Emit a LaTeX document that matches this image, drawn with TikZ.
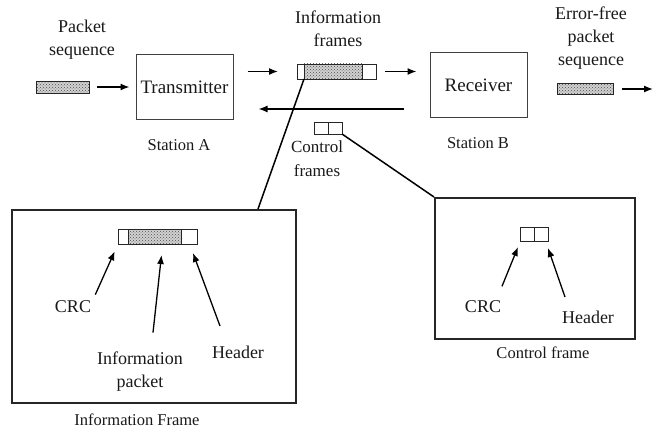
\documentclass[tikz,border=0pt]{standalone}
\usepackage{fontspec}
\setmainfont{Liberation Serif}
\usetikzlibrary{arrows.meta,positioning,patterns}

\tikzset{
  lbl/.style={font=\fontsize{18}{23}\selectfont, align=center, text=black!90, inner sep=2pt},
  undertext/.style={font=\fontsize{16.5}{20}\selectfont, text=black!90, inner sep=2pt},
  station/.style={draw=black!75, line width=1pt, minimum width=97pt, minimum height=65pt,
    font=\fontsize{19}{23}\selectfont, text=black!90},
  cell/.style={draw=black!85, line width=0.9pt, inner sep=0pt, outer sep=0pt},
  dotfill/.style={preaction={fill=gray!35}, pattern=crosshatch dots, pattern color=black!70},
  bigbox/.style={draw=black!85, line width=2pt, inner sep=0pt},
}

\begin{document}
\begin{tikzpicture}[>={Latex[length=9pt,width=7pt]},line width=1.3pt,x=1pt,y=-1pt]
\useasboundingbox (0,0) rectangle (654,428);

% stations
\node[station] (tx) at (184.5,87) {Transmitter};
\node[station] (rx) at (478.5,85.5) {Receiver};
\node[undertext] (sta) at (179,145) {Station A};
\node[undertext] (stb) at (478,143) {Station B};

% packets in and out
\node[lbl] (insq) at (82,40) {Packet\\sequence};
\node[cell,dotfill,minimum width=53pt,minimum height=12pt] (inpkt) at (62.5,87) {};
\node[lbl] (outsq) at (591,38) {Error-free\\packet\\sequence};
\node[cell,dotfill,minimum width=56pt,minimum height=11pt] (outpkt) at (585,89) {};
\coordinate (out) at (653,89);

\draw[->,shorten <=8pt,shorten >=6pt] (inpkt) -- (tx);
\draw[->,shorten <=9pt] (outpkt) -- (out);

% information frame on the link
\node[lbl] (iflbl) at (338,29) {Information\\frames};
\node[cell,dotfill,minimum width=58pt,minimum height=15pt] (idata) at (333,71.5) {};
\node[cell,minimum width=7pt,minimum height=15pt,left=0pt of idata] (icrc) {};
\node[cell,minimum width=14pt,minimum height=15pt,right=0pt of idata] (ihdr) {};

\draw[->,shorten <=14pt,shorten >=19pt] (tx.east |- idata) -- (icrc.west);
\draw[->,shorten <=9pt,shorten >=13pt] (ihdr.east) -- (ihdr.east -| rx.west);

% control frame on the link
\coordinate (ret) at (330,109);
\draw[->,shorten <=26pt,shorten >=25pt] (rx.west |- ret) -- (tx.east |- ret);
\node[cell,minimum width=14pt,minimum height=12pt] (ccrc) at (321,128) {};
\node[cell,minimum width=14pt,minimum height=12pt,right=0pt of ccrc] (chdr) {};
\node[lbl,font=\fontsize{17}{24}\selectfont] (cflbl) at (317,159) {Control\\frames};

% information frame detail
\node[bigbox,minimum width=284pt,minimum height=193pt] (ibox) at (154,306.5) {};
\draw[line width=1.5pt] (icrc.south east) -- ([xshift=104pt]ibox.north);
\node[cell,dotfill,minimum width=53pt,minimum height=15pt] (bdata) at (154.5,236.5) {};
\node[cell,minimum width=10pt,minimum height=15pt,left=0pt of bdata] (bcrc) {};
\node[cell,minimum width=16pt,minimum height=15pt,right=0pt of bdata] (bhdr) {};
\node[lbl] (bcrclbl) at (73,307) {CRC};
\node[lbl] (bpktlbl) at (140,372) {Information\\packet};
\node[lbl] (bhdrlbl) at (238,352) {Header};
\node[undertext] (ibcap) at (137,420) {Information Frame};

\draw[->,shorten <=4pt,shorten >=8pt] (bcrclbl.north east) -- (bcrc.south west);
\draw[->] ([xshift=13pt,yshift=17pt]bpktlbl.north) -- ([xshift=7pt,yshift=-11pt]bdata.south);
\draw[->] ([xshift=-18pt,yshift=17pt]bhdrlbl.north) -- ([xshift=4pt,yshift=-9pt]bhdr.south);

% control frame detail
\node[bigbox,minimum width=200pt,minimum height=141pt] (cbox) at (535,268.5) {};
\draw[line width=1.5pt] (chdr.south east) -- (cbox.north west);
\node[cell,minimum width=14pt,minimum height=14pt] (kcrc) at (527,234) {};
\node[cell,minimum width=14pt,minimum height=14pt,right=0pt of kcrc] (khdr) {};
\node[lbl] (kcrclbl) at (483,307) {CRC};
\node[lbl] (khdrlbl) at (588,317) {Header};
\node[undertext] (cbcap) at (543,353) {Control frame};

\draw[->] ([xshift=19pt,yshift=12pt]kcrclbl.north) -- ([xshift=-2pt,yshift=-6pt]kcrc.south west);
\draw[->] ([xshift=-23pt,yshift=11pt]khdrlbl.north) -- ([yshift=-7pt]khdr.south east);

\end{tikzpicture}
\end{document}
